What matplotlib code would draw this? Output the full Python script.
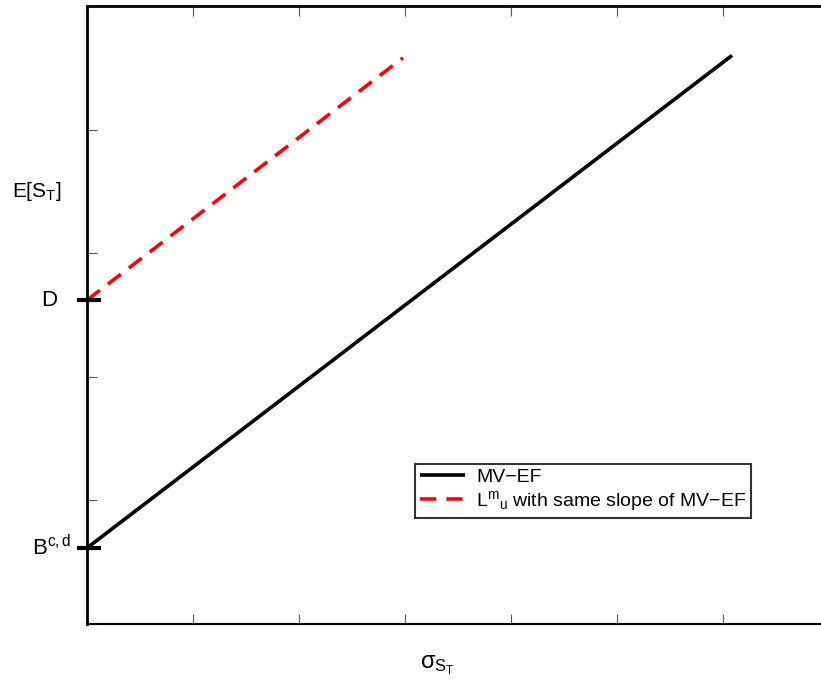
import matplotlib.pyplot as plt
import numpy as np

plt.rcParams['font.family'] = ['Liberation Sans', 'DejaVu Sans']
plt.rcParams['mathtext.fontset'] = 'custom'
plt.rcParams['mathtext.rm'] = 'Liberation Sans'
plt.rcParams['mathtext.it'] = 'Liberation Sans'
plt.rcParams['mathtext.sf'] = 'Liberation Sans'

# values (axis units: x ticks 0..7, y ticks 0..5)
ef_x = [0.0, 6.085]
ef_y = [0.615, 4.60]
lmu_x = [0.0, 2.98]
lmu_y = [2.62, 4.58]
mark_y = [0.615, 2.62]
mark_labels = [r'B$^{\rm c,d}$', 'D']
xticks = [0, 1, 2, 3, 4, 5, 6, 7]
yticks = [0, 1, 2, 3, 4, 5]

fig = plt.figure(figsize=(8.21, 6.85), dpi=100)
ax = fig.add_axes([87/821, (685-624)/685, 742/821, 618/685])

ax.plot(ef_x, ef_y, color='black', lw=2.6, label='MV\u2212EF', solid_capstyle='butt')
ax.plot(lmu_x, lmu_y, color='red', lw=2.6, ls=(0, (4.5, 2.8)),
        label='L$^{\\rm m}{}_{\\rm u}$ with same slope of MV\u2212EF')

ax.set_xlim(0, 7)
ax.set_ylim(0, 5)
ax.set_xticks(xticks)
ax.set_yticks(yticks)
ax.set_xticklabels([])
ax.set_yticklabels([])
ax.tick_params(direction='in', length=7, width=0.8, color='#555555',
               top=True, right=False)

ax.spines['left'].set_linewidth(2)
ax.spines['top'].set_linewidth(2)
ax.spines['bottom'].set_linewidth(1.5)
ax.spines['right'].set_visible(False)

# thick marks at D and B^{c,d}
for yv in mark_y:
    ax.plot([0.02], [yv], marker='_', markersize=17, mew=3, color='black', clip_on=False)
ax.text(-0.15, mark_y[0], mark_labels[0], ha='right', va='center', fontsize=16)
ax.text(-0.28, mark_y[1], mark_labels[1], ha='right', va='center', fontsize=16)

ax.text(-0.47, 3.5, r'E[S$_{\rm T}$]', ha='center', va='center', fontsize=15)
ax.text(3.30, -0.33, r'$\sigma_{\rm S_T}$', ha='center', va='center', fontsize=17)

leg = ax.legend(loc='lower left', bbox_to_anchor=((415-87)/742, (624-518)/618),
                fontsize=14, frameon=True, fancybox=False, borderpad=0.25,
                handlelength=2.3, handletextpad=0.6, labelspacing=0.15,
                borderaxespad=0)
leg.get_frame().set_edgecolor('black')
leg.get_frame().set_linewidth(1.5)

fig.savefig('out.png', dpi=100)
